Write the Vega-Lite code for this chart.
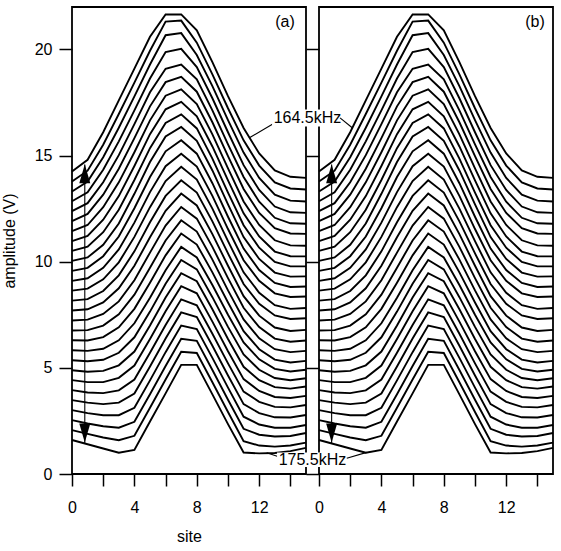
{
"$schema":"https://vega.github.io/schema/vega-lite/v6.json",
"padding":{"left":0,"top":6,"right":0,"bottom":0},
"background":"white",
"config":{"font":"Liberation Sans","view":{"stroke":"black","strokeWidth":1.8},
"axis":{"grid":false,"domain":false,"tickColor":"black","tickWidth":1.5,"labelFont":"Liberation Sans","labelFontSize":16,"labelColor":"black","titleFont":"Liberation Sans","titleFontSize":16,"titleFontWeight":"normal","titleColor":"black"},
"text":{"font":"Liberation Sans"}},
"datasets":{"curves":[
{"k":0,"s":0,"v":14.25},{"k":0,"s":1,"v":14.8},{"k":0,"s":2,"v":16.1},{"k":0,"s":3,"v":17.6},{"k":0,"s":4,"v":19.1},{"k":0,"s":5,"v":20.6},{"k":0,"s":6,"v":21.65},{"k":0,"s":7,"v":21.65},{"k":0,"s":8,"v":20.9},{"k":0,"s":9,"v":19.4},{"k":0,"s":10,"v":17.8},{"k":0,"s":11,"v":16.3},{"k":0,"s":12,"v":15.1},{"k":0,"s":13,"v":14.3},{"k":0,"s":14,"v":14.0},{"k":0,"s":15,"v":13.95},
{"k":1,"s":0,"v":13.78},{"k":1,"s":1,"v":14.29},{"k":1,"s":2,"v":15.51},{"k":1,"s":3,"v":16.96},{"k":1,"s":4,"v":18.44},{"k":1,"s":5,"v":19.94},{"k":1,"s":6,"v":21.31},{"k":1,"s":7,"v":21.36},{"k":1,"s":8,"v":20.32},{"k":1,"s":9,"v":18.83},{"k":1,"s":10,"v":17.23},{"k":1,"s":11,"v":15.72},{"k":1,"s":12,"v":14.53},{"k":1,"s":13,"v":13.74},{"k":1,"s":14,"v":13.45},{"k":1,"s":15,"v":13.40},
{"k":2,"s":0,"v":13.31},{"k":2,"s":1,"v":13.78},{"k":2,"s":2,"v":14.92},{"k":2,"s":3,"v":16.31},{"k":2,"s":4,"v":17.79},{"k":2,"s":5,"v":19.29},{"k":2,"s":6,"v":20.67},{"k":2,"s":7,"v":20.77},{"k":2,"s":8,"v":19.74},{"k":2,"s":9,"v":18.27},{"k":2,"s":10,"v":16.67},{"k":2,"s":11,"v":15.14},{"k":2,"s":12,"v":13.95},{"k":2,"s":13,"v":13.16},{"k":2,"s":14,"v":12.88},{"k":2,"s":15,"v":12.84},
{"k":3,"s":0,"v":12.85},{"k":3,"s":1,"v":13.27},{"k":3,"s":2,"v":14.33},{"k":3,"s":3,"v":15.67},{"k":3,"s":4,"v":17.13},{"k":3,"s":5,"v":18.63},{"k":3,"s":6,"v":19.88},{"k":3,"s":7,"v":20.03},{"k":3,"s":8,"v":19.17},{"k":3,"s":9,"v":17.70},{"k":3,"s":10,"v":16.10},{"k":3,"s":11,"v":14.55},{"k":3,"s":12,"v":13.38},{"k":3,"s":13,"v":12.60},{"k":3,"s":14,"v":12.33},{"k":3,"s":15,"v":12.30},
{"k":4,"s":0,"v":12.38},{"k":4,"s":1,"v":12.76},{"k":4,"s":2,"v":13.74},{"k":4,"s":3,"v":15.02},{"k":4,"s":4,"v":16.48},{"k":4,"s":5,"v":17.98},{"k":4,"s":6,"v":19.09},{"k":4,"s":7,"v":19.29},{"k":4,"s":8,"v":18.59},{"k":4,"s":9,"v":17.13},{"k":4,"s":10,"v":15.53},{"k":4,"s":11,"v":13.99},{"k":4,"s":12,"v":12.83},{"k":4,"s":13,"v":12.07},{"k":4,"s":14,"v":11.81},{"k":4,"s":15,"v":11.79},
{"k":5,"s":0,"v":11.91},{"k":5,"s":1,"v":12.25},{"k":5,"s":2,"v":13.16},{"k":5,"s":3,"v":14.38},{"k":5,"s":4,"v":15.82},{"k":5,"s":5,"v":17.32},{"k":5,"s":6,"v":18.46},{"k":5,"s":7,"v":18.71},{"k":5,"s":8,"v":18.01},{"k":5,"s":9,"v":16.57},{"k":5,"s":10,"v":14.97},{"k":5,"s":11,"v":13.43},{"k":5,"s":12,"v":12.30},{"k":5,"s":13,"v":11.58},{"k":5,"s":14,"v":11.33},{"k":5,"s":15,"v":11.31},
{"k":6,"s":0,"v":11.44},{"k":6,"s":1,"v":11.73},{"k":6,"s":2,"v":12.57},{"k":6,"s":3,"v":13.74},{"k":6,"s":4,"v":15.16},{"k":6,"s":5,"v":16.66},{"k":6,"s":6,"v":17.82},{"k":6,"s":7,"v":18.12},{"k":6,"s":8,"v":17.43},{"k":6,"s":9,"v":16.00},{"k":6,"s":10,"v":14.40},{"k":6,"s":11,"v":12.84},{"k":6,"s":12,"v":11.73},{"k":6,"s":13,"v":11.01},{"k":6,"s":14,"v":10.77},{"k":6,"s":15,"v":10.75},
{"k":7,"s":0,"v":10.97},{"k":7,"s":1,"v":11.22},{"k":7,"s":2,"v":11.98},{"k":7,"s":3,"v":13.09},{"k":7,"s":4,"v":14.51},{"k":7,"s":5,"v":16.01},{"k":7,"s":6,"v":17.18},{"k":7,"s":7,"v":17.53},{"k":7,"s":8,"v":16.85},{"k":7,"s":9,"v":15.43},{"k":7,"s":10,"v":13.83},{"k":7,"s":11,"v":12.28},{"k":7,"s":12,"v":11.19},{"k":7,"s":13,"v":10.48},{"k":7,"s":14,"v":10.26},{"k":7,"s":15,"v":10.25},
{"k":8,"s":0,"v":10.51},{"k":8,"s":1,"v":10.71},{"k":8,"s":2,"v":11.39},{"k":8,"s":3,"v":12.45},{"k":8,"s":4,"v":13.85},{"k":8,"s":5,"v":15.35},{"k":8,"s":6,"v":16.54},{"k":8,"s":7,"v":16.94},{"k":8,"s":8,"v":16.28},{"k":8,"s":9,"v":14.86},{"k":8,"s":10,"v":13.26},{"k":8,"s":11,"v":11.72},{"k":8,"s":12,"v":10.66},{"k":8,"s":13,"v":9.99},{"k":8,"s":14,"v":9.78},{"k":8,"s":15,"v":9.78},
{"k":9,"s":0,"v":10.04},{"k":9,"s":1,"v":10.2},{"k":9,"s":2,"v":10.8},{"k":9,"s":3,"v":11.8},{"k":9,"s":4,"v":13.2},{"k":9,"s":5,"v":14.7},{"k":9,"s":6,"v":15.9},{"k":9,"s":7,"v":16.35},{"k":9,"s":8,"v":15.7},{"k":9,"s":9,"v":14.3},{"k":9,"s":10,"v":12.7},{"k":9,"s":11,"v":11.16},{"k":9,"s":12,"v":10.13},{"k":9,"s":13,"v":9.49},{"k":9,"s":14,"v":9.30},{"k":9,"s":15,"v":9.31},
{"k":10,"s":0,"v":9.57},{"k":10,"s":1,"v":9.71},{"k":10,"s":2,"v":10.26},{"k":10,"s":3,"v":11.19},{"k":10,"s":4,"v":12.52},{"k":10,"s":5,"v":13.99},{"k":10,"s":6,"v":15.20},{"k":10,"s":7,"v":15.72},{"k":10,"s":8,"v":15.09},{"k":10,"s":9,"v":13.70},{"k":10,"s":10,"v":12.12},{"k":10,"s":11,"v":10.62},{"k":10,"s":12,"v":9.61},{"k":10,"s":13,"v":9.00},{"k":10,"s":14,"v":8.81},{"k":10,"s":15,"v":8.83},
{"k":11,"s":0,"v":9.10},{"k":11,"s":1,"v":9.22},{"k":11,"s":2,"v":9.71},{"k":11,"s":3,"v":10.58},{"k":11,"s":4,"v":11.84},{"k":11,"s":5,"v":13.28},{"k":11,"s":6,"v":14.50},{"k":11,"s":7,"v":15.09},{"k":11,"s":8,"v":14.48},{"k":11,"s":9,"v":13.10},{"k":11,"s":10,"v":11.54},{"k":11,"s":11,"v":10.07},{"k":11,"s":12,"v":9.10},{"k":11,"s":13,"v":8.51},{"k":11,"s":14,"v":8.34},{"k":11,"s":15,"v":8.36},
{"k":12,"s":0,"v":8.64},{"k":12,"s":1,"v":8.73},{"k":12,"s":2,"v":9.17},{"k":12,"s":3,"v":9.97},{"k":12,"s":4,"v":11.17},{"k":12,"s":5,"v":12.57},{"k":12,"s":6,"v":13.80},{"k":12,"s":7,"v":14.47},{"k":12,"s":8,"v":13.87},{"k":12,"s":9,"v":12.50},{"k":12,"s":10,"v":10.97},{"k":12,"s":11,"v":9.50},{"k":12,"s":12,"v":8.54},{"k":12,"s":13,"v":7.95},{"k":12,"s":14,"v":7.78},{"k":12,"s":15,"v":7.82},
{"k":13,"s":0,"v":8.17},{"k":13,"s":1,"v":8.24},{"k":13,"s":2,"v":8.62},{"k":13,"s":3,"v":9.36},{"k":13,"s":4,"v":10.49},{"k":13,"s":5,"v":11.86},{"k":13,"s":6,"v":13.10},{"k":13,"s":7,"v":13.84},{"k":13,"s":8,"v":13.26},{"k":13,"s":9,"v":11.90},{"k":13,"s":10,"v":10.39},{"k":13,"s":11,"v":8.95},{"k":13,"s":12,"v":8.02},{"k":13,"s":13,"v":7.47},{"k":13,"s":14,"v":7.30},{"k":13,"s":15,"v":7.34},
{"k":14,"s":0,"v":7.70},{"k":14,"s":1,"v":7.76},{"k":14,"s":2,"v":8.08},{"k":14,"s":3,"v":8.75},{"k":14,"s":4,"v":9.81},{"k":14,"s":5,"v":11.15},{"k":14,"s":6,"v":12.40},{"k":14,"s":7,"v":13.21},{"k":14,"s":8,"v":12.65},{"k":14,"s":9,"v":11.30},{"k":14,"s":10,"v":9.81},{"k":14,"s":11,"v":8.38},{"k":14,"s":12,"v":7.46},{"k":14,"s":13,"v":6.90},{"k":14,"s":14,"v":6.74},{"k":14,"s":15,"v":6.79},
{"k":15,"s":0,"v":7.23},{"k":15,"s":1,"v":7.27},{"k":15,"s":2,"v":7.54},{"k":15,"s":3,"v":8.13},{"k":15,"s":4,"v":9.13},{"k":15,"s":5,"v":10.43},{"k":15,"s":6,"v":11.70},{"k":15,"s":7,"v":12.58},{"k":15,"s":8,"v":12.03},{"k":15,"s":9,"v":10.70},{"k":15,"s":10,"v":9.23},{"k":15,"s":11,"v":7.83},{"k":15,"s":12,"v":6.92},{"k":15,"s":13,"v":6.38},{"k":15,"s":14,"v":6.23},{"k":15,"s":15,"v":6.29},
{"k":16,"s":0,"v":6.76},{"k":16,"s":1,"v":6.78},{"k":16,"s":2,"v":6.99},{"k":16,"s":3,"v":7.52},{"k":16,"s":4,"v":8.45},{"k":16,"s":5,"v":9.72},{"k":16,"s":6,"v":11.00},{"k":16,"s":7,"v":11.95},{"k":16,"s":8,"v":11.42},{"k":16,"s":9,"v":10.10},{"k":16,"s":10,"v":8.65},{"k":16,"s":11,"v":7.28},{"k":16,"s":12,"v":6.39},{"k":16,"s":13,"v":5.88},{"k":16,"s":14,"v":5.74},{"k":16,"s":15,"v":5.80},
{"k":17,"s":0,"v":6.30},{"k":17,"s":1,"v":6.29},{"k":17,"s":2,"v":6.45},{"k":17,"s":3,"v":6.91},{"k":17,"s":4,"v":7.78},{"k":17,"s":5,"v":9.01},{"k":17,"s":6,"v":10.30},{"k":17,"s":7,"v":11.33},{"k":17,"s":8,"v":10.81},{"k":17,"s":9,"v":9.50},{"k":17,"s":10,"v":8.08},{"k":17,"s":11,"v":6.73},{"k":17,"s":12,"v":5.88},{"k":17,"s":13,"v":5.39},{"k":17,"s":14,"v":5.25},{"k":17,"s":15,"v":5.33},
{"k":18,"s":0,"v":5.83},{"k":18,"s":1,"v":5.8},{"k":18,"s":2,"v":5.9},{"k":18,"s":3,"v":6.3},{"k":18,"s":4,"v":7.1},{"k":18,"s":5,"v":8.3},{"k":18,"s":6,"v":9.6},{"k":18,"s":7,"v":10.7},{"k":18,"s":8,"v":10.2},{"k":18,"s":9,"v":8.9},{"k":18,"s":10,"v":7.5},{"k":18,"s":11,"v":6.20},{"k":18,"s":12,"v":5.40},{"k":18,"s":13,"v":4.95},{"k":18,"s":14,"v":4.83},{"k":18,"s":15,"v":4.91},
{"k":19,"s":0,"v":5.36},{"k":19,"s":1,"v":5.31},{"k":19,"s":2,"v":5.38},{"k":19,"s":3,"v":5.71},{"k":19,"s":4,"v":6.44},{"k":19,"s":5,"v":7.65},{"k":19,"s":6,"v":8.96},{"k":19,"s":7,"v":10.08},{"k":19,"s":8,"v":9.64},{"k":19,"s":9,"v":8.33},{"k":19,"s":10,"v":6.93},{"k":19,"s":11,"v":5.63},{"k":19,"s":12,"v":4.91},{"k":19,"s":13,"v":4.52},{"k":19,"s":14,"v":4.42},{"k":19,"s":15,"v":4.51},
{"k":20,"s":0,"v":4.89},{"k":20,"s":1,"v":4.82},{"k":20,"s":2,"v":4.86},{"k":20,"s":3,"v":5.12},{"k":20,"s":4,"v":5.77},{"k":20,"s":5,"v":7.00},{"k":20,"s":6,"v":8.31},{"k":20,"s":7,"v":9.46},{"k":20,"s":8,"v":9.08},{"k":20,"s":9,"v":7.76},{"k":20,"s":10,"v":6.36},{"k":20,"s":11,"v":5.05},{"k":20,"s":12,"v":4.42},{"k":20,"s":13,"v":4.09},{"k":20,"s":14,"v":4.02},{"k":20,"s":15,"v":4.12},
{"k":21,"s":0,"v":4.42},{"k":21,"s":1,"v":4.33},{"k":21,"s":2,"v":4.33},{"k":21,"s":3,"v":4.53},{"k":21,"s":4,"v":5.11},{"k":21,"s":5,"v":6.36},{"k":21,"s":6,"v":7.67},{"k":21,"s":7,"v":8.85},{"k":21,"s":8,"v":8.51},{"k":21,"s":9,"v":7.18},{"k":21,"s":10,"v":5.78},{"k":21,"s":11,"v":4.47},{"k":21,"s":12,"v":3.91},{"k":21,"s":13,"v":3.63},{"k":21,"s":14,"v":3.58},{"k":21,"s":15,"v":3.68},
{"k":22,"s":0,"v":3.95},{"k":22,"s":1,"v":3.84},{"k":22,"s":2,"v":3.81},{"k":22,"s":3,"v":3.94},{"k":22,"s":4,"v":4.45},{"k":22,"s":5,"v":5.71},{"k":22,"s":6,"v":7.02},{"k":22,"s":7,"v":8.23},{"k":22,"s":8,"v":7.95},{"k":22,"s":9,"v":6.61},{"k":22,"s":10,"v":5.21},{"k":22,"s":11,"v":3.88},{"k":22,"s":12,"v":3.40},{"k":22,"s":13,"v":3.16},{"k":22,"s":14,"v":3.14},{"k":22,"s":15,"v":3.25},
{"k":23,"s":0,"v":3.48},{"k":23,"s":1,"v":3.36},{"k":23,"s":2,"v":3.29},{"k":23,"s":3,"v":3.36},{"k":23,"s":4,"v":3.79},{"k":23,"s":5,"v":5.06},{"k":23,"s":6,"v":6.38},{"k":23,"s":7,"v":7.61},{"k":23,"s":8,"v":7.39},{"k":23,"s":9,"v":6.04},{"k":23,"s":10,"v":4.64},{"k":23,"s":11,"v":3.29},{"k":23,"s":12,"v":2.87},{"k":23,"s":13,"v":2.67},{"k":23,"s":14,"v":2.66},{"k":23,"s":15,"v":2.78},
{"k":24,"s":0,"v":3.01},{"k":24,"s":1,"v":2.87},{"k":24,"s":2,"v":2.77},{"k":24,"s":3,"v":2.77},{"k":24,"s":4,"v":3.12},{"k":24,"s":5,"v":4.41},{"k":24,"s":6,"v":5.74},{"k":24,"s":7,"v":6.99},{"k":24,"s":8,"v":6.83},{"k":24,"s":9,"v":5.47},{"k":24,"s":10,"v":4.07},{"k":24,"s":11,"v":2.70},{"k":24,"s":12,"v":2.33},{"k":24,"s":13,"v":2.18},{"k":24,"s":14,"v":2.18},{"k":24,"s":15,"v":2.31},
{"k":25,"s":0,"v":2.54},{"k":25,"s":1,"v":2.38},{"k":25,"s":2,"v":2.25},{"k":25,"s":3,"v":2.18},{"k":25,"s":4,"v":2.46},{"k":25,"s":5,"v":3.76},{"k":25,"s":6,"v":5.09},{"k":25,"s":7,"v":6.37},{"k":25,"s":8,"v":6.27},{"k":25,"s":9,"v":4.90},{"k":25,"s":10,"v":3.50},{"k":25,"s":11,"v":2.13},{"k":25,"s":12,"v":1.85},{"k":25,"s":13,"v":1.77},{"k":25,"s":14,"v":1.79},{"k":25,"s":15,"v":1.93},
{"k":26,"s":0,"v":2.07},{"k":26,"s":1,"v":1.89},{"k":26,"s":2,"v":1.72},{"k":26,"s":3,"v":1.59},{"k":26,"s":4,"v":1.80},{"k":26,"s":5,"v":3.12},{"k":26,"s":6,"v":4.45},{"k":26,"s":7,"v":5.76},{"k":26,"s":8,"v":5.70},{"k":26,"s":9,"v":4.32},{"k":26,"s":10,"v":2.92},{"k":26,"s":11,"v":1.55},{"k":26,"s":12,"v":1.34},{"k":26,"s":13,"v":1.29},{"k":26,"s":14,"v":1.34},{"k":26,"s":15,"v":1.48},
{"k":27,"s":0,"v":1.6},{"k":27,"s":1,"v":1.4},{"k":27,"s":2,"v":1.2},{"k":27,"s":3,"v":1.0},{"k":27,"s":4,"v":1.13},{"k":27,"s":5,"v":2.47},{"k":27,"s":6,"v":3.8},{"k":27,"s":7,"v":5.14},{"k":27,"s":8,"v":5.14},{"k":27,"s":9,"v":3.75},{"k":27,"s":10,"v":2.35},{"k":27,"s":11,"v":1.01},{"k":27,"s":12,"v":0.97},{"k":27,"s":13,"v":0.99},{"k":27,"s":14,"v":1.08},{"k":27,"s":15,"v":1.23}
]},
"spacing":13,
"bounds":"flush",
"hconcat":[
{"width":234,"height":467,
"encoding":{
"x":{"field":"s","type":"quantitative","scale":{"domain":[0,15],"nice":false,"zero":false},
"axis":{"values":[0,2,4,6,8,10,12,14],"tickSize":12,"labelPadding":13,"labelFlush":false,"labelOverlap":false,"labelExpr":"datum.value % 4 ? '' : datum.label","title":"site","titleBaseline":"alphabetic","titleY":67,
"encode":{"ticks":{"update":{"y2":{"signal":"datum.value % 4 ? 7 : 12"}}}}}},
"y":{"field":"v","type":"quantitative","scale":{"domain":[0,22],"nice":false,"zero":false},
"axis":{"values":[0,5,10,15,20],"tickSize":13,"labelPadding":7,"labelFlush":false,"title":"amplitude (V)","titleAngle":270,"titleX":-58,"titleBaseline":"alphabetic","titleAlign":"center"}}},
"layer":[
{"data":{"name":"curves"},"mark":{"type":"line","color":"black","strokeWidth":1.9},"encoding":{"detail":{"field":"k","type":"nominal"}}},
{"data":{"values":[{"s":0.82,"v":14.58,"v2":1.46}]},"mark":{"type":"rule","color":"black","strokeWidth":1.1},"encoding":{"y2":{"field":"v2"}}},
{"data":{"values":[{"s":0.82,"v":14.15,"d":"up"},{"s":0.82,"v":1.93,"d":"down"}]},"mark":{"type":"point","filled":true,"color":"black","opacity":1,"size":361},"encoding":{"shape":{"field":"d","type":"nominal","scale":{"domain":["up","down"],"range":["M0,-1L0.58,1L-0.58,1Z","M0,1L0.58,-1L-0.58,-1Z"]},"legend":null}}},
{"data":{"values":[{"s":12.9,"v":16.5,"s2":11.4,"v2":15.85},{"s":13.2,"v":0.82,"s2":12.48,"v2":1.0}]},"mark":{"type":"rule","color":"black","strokeWidth":1.1},"encoding":{"x2":{"field":"s2"},"y2":{"field":"v2"}}},
{"data":{"values":[{"s":13.65,"v":21.3,"t":"(a)"}]},"mark":{"type":"text","fontSize":16,"color":"black"},"encoding":{"text":{"field":"t"}}}
]},
{"width":234,"height":467,
"encoding":{
"x":{"field":"s","type":"quantitative","scale":{"domain":[0,15],"nice":false,"zero":false},
"axis":{"values":[0,2,4,6,8,10,12,14],"tickSize":12,"labelPadding":13,"labelFlush":false,"labelOverlap":false,"labelExpr":"datum.value % 4 ? '' : datum.label","title":null,
"encode":{"ticks":{"update":{"y2":{"signal":"datum.value % 4 ? 7 : 12"}}}}}},
"y":{"field":"v","type":"quantitative","scale":{"domain":[0,22],"nice":false,"zero":false},
"axis":{"values":[0,5,10,15,20],"tickSize":13,"labels":false,"title":null}}},
"layer":[
{"data":{"name":"curves"},"mark":{"type":"line","color":"black","strokeWidth":1.9},"encoding":{"detail":{"field":"k","type":"nominal"}}},
{"data":{"values":[{"s":0.81,"v":14.58,"v2":1.46}]},"mark":{"type":"rule","color":"black","strokeWidth":1.1},"encoding":{"y2":{"field":"v2"}}},
{"data":{"values":[{"s":0.81,"v":14.15,"d":"up"},{"s":0.81,"v":1.93,"d":"down"}]},"mark":{"type":"point","filled":true,"color":"black","opacity":1,"size":361},"encoding":{"shape":{"field":"d","type":"nominal","scale":{"domain":["up","down"],"range":["M0,-1L0.58,1L-0.58,1Z","M0,1L0.58,-1L-0.58,-1Z"]},"legend":null}}},
{"data":{"values":[{"s":-3.01,"v":16.37,"s2":1.5,"v2":17.17},{"s":-2.69,"v":0.33,"s2":1.86,"v2":1.01}]},"mark":{"type":"rect","color":"white","opacity":1},"encoding":{"x2":{"field":"s2"},"y2":{"field":"v2"}}},
{"data":{"values":[{"s":1.35,"v":16.78,"s2":2.15,"v2":16.3},{"s":1.78,"v":0.74,"s2":3.06,"v2":1.02}]},"mark":{"type":"rule","color":"black","strokeWidth":1.1},"encoding":{"x2":{"field":"s2"},"y2":{"field":"v2"}}},
{"data":{"values":[{"s":13.85,"v":21.3,"t":"(b)"},{"s":-0.74,"v":16.77,"t":"164.5kHz"},{"s":-0.42,"v":0.68,"t":"175.5kHz"}]},"mark":{"type":"text","fontSize":16,"color":"black"},"encoding":{"text":{"field":"t"}}}
]}
]
}
